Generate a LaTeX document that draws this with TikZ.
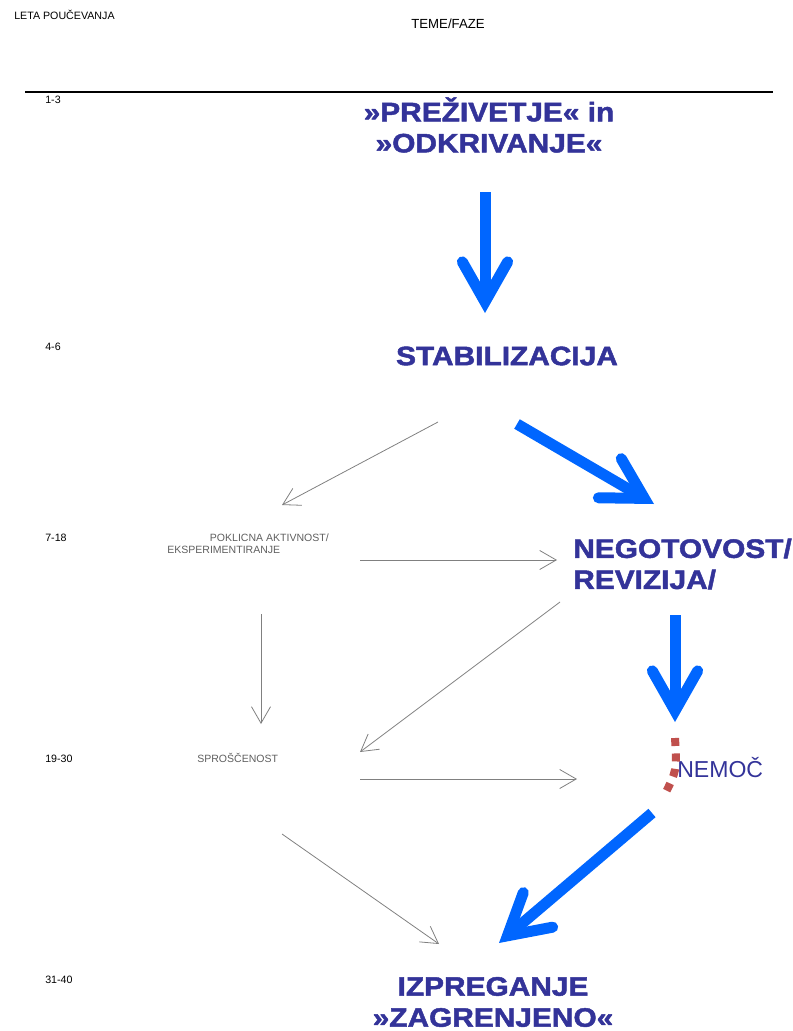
\documentclass[tikz,border=0pt]{standalone}
\usepackage{fontspec}
\setmainfont{Liberation Sans}
\newfontfamily\widefont[FakeStretch=1.12, FakeBold=1.8]{Liberation Sans}
\usetikzlibrary{arrows.meta}

\definecolor{titleblue}{HTML}{333399}
\definecolor{arrowblue}{HTML}{0066FF}
\definecolor{dotred}{HTML}{C0504D}
\definecolor{labelgray}{HTML}{5F5F5F}

\tikzset{
    phase/.style={font=\widefont\bfseries\fontsize{20}{23.3}\selectfont, text=titleblue, inner sep=0pt},
    smalltext/.style={font=\fontsize{8}{9.5}\selectfont, inner sep=0pt},
    graytext/.style={font=\fontsize{7.9}{9.2}\selectfont, text=labelgray, inner sep=0pt},
    bigarrow/.style={draw=arrowblue, line width=8.25pt, -{Straight Barb[length=30pt, width=34pt, line cap=round, line join=miter]}},
    thinarrow/.style={draw=gray, line width=0.6pt, -{Straight Barb[length=12.4pt, width=14.3pt]}},
    reddots/.style={draw=dotred, line width=6pt, dash pattern=on 6pt off 5.6pt}
}

\begin{document}
\begin{tikzpicture}[x=0.75pt, y=-0.75pt]

    \useasboundingbox (0,0) rectangle (792,1031);

    % header and rule
    \node[smalltext, anchor=west] (leta) at (14,15) {LETA POUČEVANJA};
    \node[smalltext, font=\fontsize{9.9}{11}\selectfont] (teme) at (448,24) {TEME/FAZE};
    \draw[black, line width=1.5pt] (25,92) -- (773,92);

    % years
    \node[smalltext, anchor=west] (y1) at (45,100) {1-3};
    \node[smalltext, anchor=west] (y2) at (45,347) {4-6};
    \node[smalltext, anchor=west] (y3) at (45,538) {7-18};
    \node[smalltext, anchor=west] (y4) at (45,759) {19-30};
    \node[smalltext, anchor=west] (y5) at (45,980) {31-40};

    % phases
    \node[phase, align=center] (prez) at (489,125) {»PREŽIVETJE« in\\»ODKRIVANJE«};
    \node[phase] (stab) at (507,356) {STABILIZACIJA};
    \node[phase, align=left, anchor=west] (nego) at (573,564) {NEGOTOVOST/\\REVIZIJA/};
    \node[phase, align=center] (izpr) at (493,1002) {IZPREGANJE\\»ZAGRENJENO«};
    \node[anchor=west, inner sep=0pt, text=titleblue, font=\fontsize{17.3}{20}\selectfont] (nemoc) at (677,768) {NEMOČ};

    % side phases
    \node[graytext, align=left, anchor=west] (pokl) at (167,544) {\hspace*{32pt}POKLICNA AKTIVNOST/\\EKSPERIMENTIRANJE};
    \node[graytext, anchor=west] (spro) at (197,758) {SPROŠČENOST};

    % arrow ends
    \coordinate (prez-out) at (485,192);
    \coordinate (stab-in) at (485,313);
    \coordinate (stab-out) at (517,424);
    \coordinate (nego-in) at (654,504);
    \coordinate (nego-out) at (675,615);
    \coordinate (nemoc-in) at (675,722);
    \coordinate (nemoc-out) at (652,813);
    \coordinate (izpr-in) at (499,943);

    \coordinate (stab-left) at (438,422);
    \coordinate (pokl-in) at (282,505);
    \coordinate (pokl-right) at (360,560);
    \coordinate (nego-left) at (557,560);
    \coordinate (pokl-down) at (261,614);
    \coordinate (spro-in) at (261,724);
    \coordinate (nego-down) at (560,602);
    \coordinate (spro-right-in) at (360,752);
    \coordinate (spro-right) at (360,779);
    \coordinate (nemoc-left) at (577,779);
    \coordinate (spro-down) at (282,834);
    \coordinate (izpr-left) at (439,944);

    % main path
    \draw[bigarrow] (prez-out) -- (stab-in);
    \draw[bigarrow] (stab-out) -- (nego-in);
    \draw[bigarrow] (nego-out) -- (nemoc-in);
    \draw[bigarrow] (nemoc-out) -- (izpr-in);

    % other paths
    \draw[thinarrow] (stab-left) -- (pokl-in);
    \draw[thinarrow] (pokl-right) -- (nego-left);
    \draw[thinarrow] (pokl-down) -- (spro-in);
    \draw[thinarrow] (nego-down) -- (spro-right-in);
    \draw[thinarrow] (spro-right) -- (nemoc-left);
    \draw[thinarrow] (spro-down) -- (izpr-left);

    % dotted mark at nemoc
    \draw[reddots] (675,738) .. controls (677,770) .. (664,796);

\end{tikzpicture}
\end{document}
